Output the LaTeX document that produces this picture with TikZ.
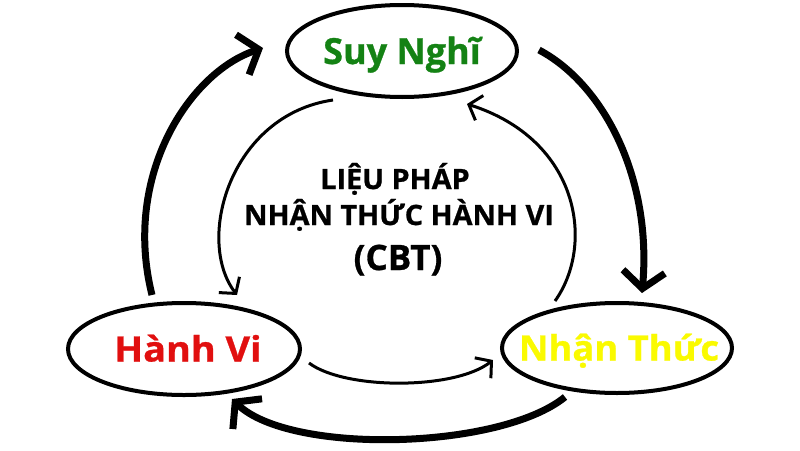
\documentclass[tikz,border=0pt]{standalone}
\usepackage{fontspec}
\setmainfont{Open Sans}[BoldFeatures={FakeBold=0.8}]
\usetikzlibrary{arrows.meta,shapes.geometric}
\definecolor{sngreen}{RGB}{20,130,20}
\definecolor{hvred}{RGB}{225,15,15}
\definecolor{ntyellow}{RGB}{250,250,0}
\tikzset{
  box/.style={ellipse, draw=black, line width=4pt, inner sep=0pt,
    minimum width=230pt, minimum height=92pt, text height=26pt, text depth=0pt, font=\bfseries},
  outerarrow/.style={line width=7pt, -{Straight Barb[length=17pt,width=42pt]}},
  innerarrow/.style={line width=3pt, -{Straight Barb[length=11pt,width=26pt]}},
  title/.style={anchor=base, inner sep=0pt, font=\bfseries}
}
\begin{document}
\begin{tikzpicture}[x=1pt,y=-1pt]
\useasboundingbox[fill=white] (0,0) rectangle (800,450);
% main nodes
\node[box] (sn) at (402,51) {\makebox[0pt]{\fontsize{36}{40}\selectfont\color{sngreen}Suy Nghĩ}};
\node[box, minimum width=232pt, text height=25pt] (hv) at (184,349) {\makebox[0pt]{\hspace{8pt}\scalebox{1.08}[1]{\fontsize{35}{40}\selectfont\color{hvred}Hành Vi}}};
\node[box, minimum height=90pt, text height=25pt] (nt) at (617,348) {\makebox[0pt]{\hspace{4pt}\scalebox{1.04}[1]{\fontsize{35}{40}\selectfont\color{ntyellow}Nhận Thức}}};
% central title
\node[title] (t1) at (395,189) {\scalebox{1.03}[1]{\fontsize{28}{30}\selectfont LIỆU PHÁP}};
\node[title] (t2) at (399,225) {\scalebox{1.03}[1]{\fontsize{28}{30}\selectfont NHẬN THỨC HÀNH VI}};
\node[title] (t3) at (398,270) {\fontsize{35}{38}\selectfont (CBT)};
% outer thick arrows
\draw[outerarrow] ([shift={(-32,-6)}]hv.north) .. controls (122,175) and (190,72) .. ([shift={(-22,-3)}]sn.west);
\draw[outerarrow] ([shift={(20,-1)}]sn.east) .. controls (605,85) and (652,180) .. ([shift={(25,-8)}]nt.north);
\draw[outerarrow] ([shift={(-52,2)}]nt.south) .. controls (500,450) and (290,455) .. ([shift={(48,2)}]hv.south);
% inner thin arrows
\draw[innerarrow] ([shift={(-69,1)}]sn.south) .. controls (230,115) and (195,240) .. ([shift={(53,-6)}]hv.north);
\draw[innerarrow] ([shift={(7,14)}]hv.east) .. controls (345,390) and (455,390) .. ([shift={(-7,12)}]nt.west);
\draw[innerarrow] ([shift={(-62,0)}]nt.north) .. controls (595,245) and (580,140) .. ([shift={(65,5)}]sn.south);
\end{tikzpicture}
\end{document}
